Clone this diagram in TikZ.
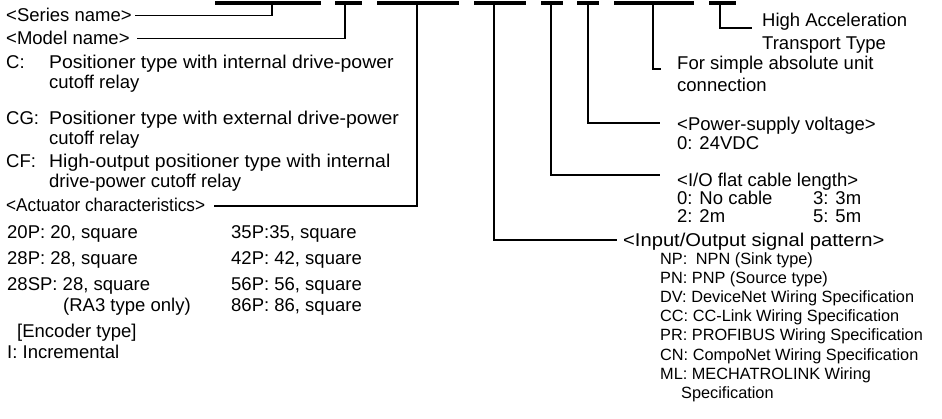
\documentclass[tikz,border=0pt]{standalone}
\usepackage{fontspec}
\setmainfont{Liberation Sans}
\newcommand{\hsq}[2]{\scalebox{#1}[1]{#2}}
\begin{document}
\begin{tikzpicture}[x=1pt,y=-1pt,
  bar/.style={fill=black},
  conn/.style={line width=1.4pt},
  txt/.style={anchor=base west, inner sep=0pt, font=\fontsize{18.5}{20}\selectfont},
  lst/.style={anchor=base west, inner sep=0pt, font=\fontsize{16.3}{19}\selectfont}]
\useasboundingbox (0,0) rectangle (942,419);
% code bars
\fill[bar] (215,1) rectangle (321,4.6);
\fill[bar] (335,1) rectangle (362,4.6);
\fill[bar] (377,1) rectangle (459,4.6);
\fill[bar] (474,1) rectangle (526,4.6);
\fill[bar] (541,1) rectangle (563,4.6);
\fill[bar] (577,1) rectangle (599,4.6);
\fill[bar] (614,1) rectangle (694,4.6);
\fill[bar] (709,1) rectangle (736,4.6);
% attachment points
\coordinate (t1) at (272,3);
\coordinate (t2) at (345,3);
\coordinate (t3) at (417,3);
\coordinate (t4) at (494,3);
\coordinate (t5) at (551,3);
\coordinate (t6) at (588,3);
\coordinate (t7) at (653,3);
\coordinate (t8) at (720,3);
\coordinate (e1) at (135,15.5);
\coordinate (e2) at (137,38.5);
\coordinate (e3) at (214,206);
\coordinate (e4) at (617,240);
\coordinate (e5) at (660,175);
\coordinate (e6) at (660,123);
\coordinate (e7) at (661,69);
\coordinate (e8) at (752,28);
\draw[conn] (t1) |- (e1);
\draw[conn] (t2) |- (e2);
\draw[conn] (t3) |- (e3);
\draw[conn] (t4) |- (e4);
\draw[conn] (t5) |- (e5);
\draw[conn] (t6) |- (e6);
\draw[conn] (t7) |- (e7);
\draw[conn] (t8) |- (e8);
% left texts
\node[txt] (series) at (6,21.5) {<Series name>};
\node[txt] (model) at (6,44.5) {<Model name>};
\node[txt] (c) at (6,68.5) {C:};
\node[txt] (c1) at (49,68.5) {\hsq{1.05}{Positioner type with internal drive-power}};
\node[txt] (c2) at (49,88.5) {cutoff relay};
\node[txt] (cg) at (6,124.5) {CG:};
\node[txt] (cg1) at (49,124.5) {\hsq{1.05}{Positioner type with external drive-power}};
\node[txt] (cg2) at (49,144.5) {cutoff relay};
\node[txt] (cf) at (6,167.5) {CF:};
\node[txt] (cf1) at (49,167.5) {\hsq{1.05}{High-output positioner type with internal}};
\node[txt] (cf2) at (49,187.5) {drive-power cutoff relay};
\node[txt] (act) at (6,211.5) {\hsq{0.93}{<Actuator characteristics>}};
\node[txt] (a1) at (7,238.5) {20P: 20, square};
\node[txt] (a2) at (7,264.5) {28P: 28, square};
\node[txt] (a3) at (7,290.5) {28SP: 28, square};
\node[txt] (a3b) at (63,311.5) {(RA3 type only)};
\node[txt] (a4) at (231,238.5) {35P:35, square};
\node[txt] (a5) at (231,264.5) {42P: 42, square};
\node[txt] (a6) at (231,290.5) {56P: 56, square};
\node[txt] (a7) at (231,311.5) {86P: 86, square};
\node[txt] (enc) at (17,337.5) {[Encoder type]};
\node[txt] (inc) at (7,358.5) {I: Incremental};
% right texts
\node[txt] (ha1) at (762,26.5) {High Acceleration};
\node[txt] (ha2) at (762,49.5) {Transport Type};
\node[txt] (sa1) at (677,69.5) {For simple absolute unit};
\node[txt] (sa2) at (677,91.5) {connection};
\node[txt] (pv) at (677,130.5) {<Power-supply voltage>};
\node[txt] (pv1) at (677,149.5) {0: 24VDC};
\node[txt] (cl) at (677,186.5) {<I/O flat cable length>};
\node[txt] (cl1) at (677,204.5) {0: No cable};
\node[txt] (cl2) at (813,204.5) {3: 3m};
\node[txt] (cl3) at (677,222.5) {2: 2m};
\node[txt] (cl4) at (813,222.5) {5: 5m};
\node[txt] (io) at (623,246.5) {\hsq{1.09}{<Input/Output signal pattern>}};
\node[lst] (io1) at (660,265) {NP:\hspace{0.25em} NPN (Sink type)};
\node[lst] (io2) at (660,284) {PN: PNP (Source type)};
\node[lst] (io3) at (660,303) {DV: DeviceNet Wiring Specification};
\node[lst] (io4) at (660,322) {CC: CC-Link Wiring Specification};
\node[lst] (io5) at (660,341) {PR: PROFIBUS Wiring Specification};
\node[lst] (io6) at (660,360) {CN: CompoNet Wiring Specification};
\node[lst] (io7) at (660,379) {ML: MECHATROLINK Wiring};
\node[lst] (io8) at (681,399) {Specification};
\end{tikzpicture}
\end{document}
